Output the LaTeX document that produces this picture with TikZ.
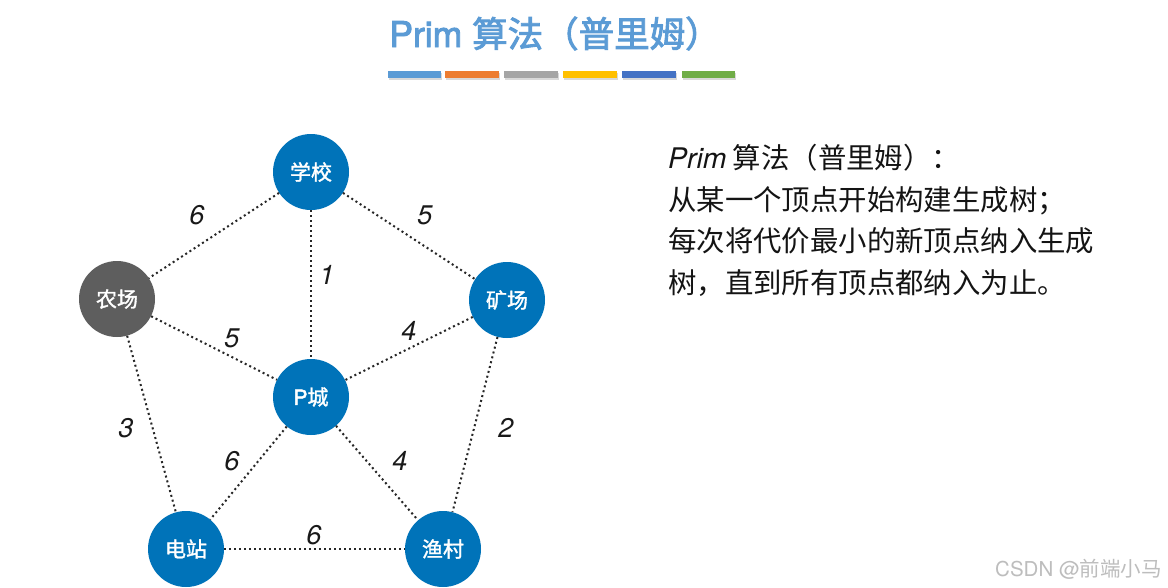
\documentclass[tikz,border=0pt]{standalone}
\usepackage{fontspec}
\setmainfont{TeX Gyre Heros}
\newfontfamily\cjk{Noto Sans CJK SC}
\newfontfamily\cjkm[FakeBold=1.5]{Noto Sans CJK SC}
\newfontfamily\cjkt[FakeBold=2.5]{Noto Sans CJK SC}
\newfontfamily\numf{TeX Gyre Heros}
\newfontfamily\numt[FakeBold=2.5]{TeX Gyre Heros}
\definecolor{nodeblue}{HTML}{0073B9}
\definecolor{nodegrey}{HTML}{5E5E5E}
\definecolor{titleblue}{HTML}{5B9BD5}
\definecolor{barA}{HTML}{5B9BD5}
\definecolor{barB}{HTML}{ED7D31}
\definecolor{barC}{HTML}{A5A5A5}
\definecolor{barD}{HTML}{FFC000}
\definecolor{barE}{HTML}{4472C4}
\definecolor{barF}{HTML}{70AD47}
\definecolor{wmgrey}{HTML}{BDBDBD}
\tikzset{
  city/.style={circle, fill=nodeblue, minimum size=76pt, inner sep=0pt, text=white, font=\cjkm\fontsize{21}{24}\selectfont},
  farm/.style={city, fill=nodegrey},
  road/.style={line width=2pt, dash pattern=on 2pt off 3pt, black!85},
  wt/.style={font=\numf\itshape\fontsize{27}{30}\selectfont, text=black!90, inner sep=0pt},
  txt/.style={anchor=base west, inner sep=0pt, font=\cjk\fontsize{28.4}{32}\selectfont, text=black!92}
}
\begin{document}
\begin{tikzpicture}[x=1pt,y=-1pt]
\fill[white] (0,0) rectangle (1168,587);
\useasboundingbox (0,0) rectangle (1168,587);
% title
\node[anchor=base, inner sep=0pt, text=titleblue] (title) at (555,47)
  {\fontsize{35.5}{38}\selectfont\numt Prim \cjkt 算法（普里姆）};
% colour bars
\foreach \xa/\xb/\c in {388/441/barA,445/499/barB,504/558/barC,563/617/barD,622/676/barE,682/735/barF}{
  \fill[black!15] (\xa+1,72.5) rectangle (\xb+1,79.5);
  \fill[\c] (\xa,71) rectangle (\xb,78);
}
% nodes
\node[city] (school) at (311,172) {学校};
\node[farm] (farm) at (117,299) {农场};
\node[city] (mine) at (507,300) {矿场};
\node[city] (pcity) at (311,397) {{\numt P}城};
\node[city] (power) at (186,549) {电站};
\node[city] (fish) at (443,549) {渔村};
% edges
\draw[road] (school) -- (farm);
\draw[road] (school) -- (mine);
\draw[road] (school) -- (pcity);
\draw[road] (farm) -- (pcity);
\draw[road] (mine) -- (pcity);
\draw[road] (farm) -- (power);
\draw[road] (mine) -- (fish);
\draw[road] (pcity) -- (power);
\draw[road] (pcity) -- (fish);
\draw[road] (power) -- (fish);
% weights
\node[wt] (w1) at (197,215) {6};
\node[wt] (w2) at (425,215) {5};
\node[wt] (w3) at (327,275) {1};
\node[wt] (w4) at (232,338) {5};
\node[wt] (w5) at (409,331) {4};
\node[wt] (w6) at (126,428) {3};
\node[wt] (w7) at (506,428) {2};
\node[wt] (w8) at (232,461) {6};
\node[wt] (w9) at (400,461) {4};
\node[wt] (w10) at (314,535) {6};
% description
\node[txt] (l1) at (668,168) {{\numf\itshape Prim} 算法（普里姆）：};
\node[txt] (l2) at (668,210) {从某一个顶点开始构建生成树；};
\node[txt] (l3) at (668,251) {每次将代价最小的新顶点纳入生成};
\node[txt] (l4) at (668,293) {树，直到所有顶点都纳入为止。};
% watermark
\node[anchor=base east, inner sep=0pt, text=wmgrey, font=\fontsize{20.5}{22}\selectfont] (wm) at (1162,576) {\numf CSDN @\cjk 前端小马};
\end{tikzpicture}
\end{document}
